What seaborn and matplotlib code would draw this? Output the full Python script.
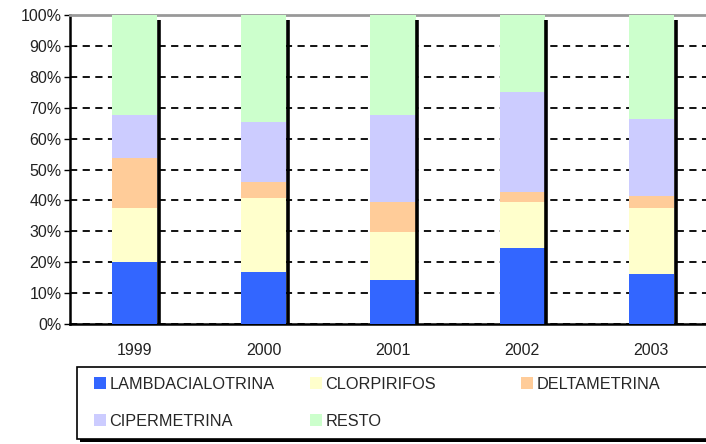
import numpy as np
import matplotlib
matplotlib.use("Agg")
import matplotlib.pyplot as plt
import seaborn as sns

# Data (share of each compound per year, %)
years = ["1999", "2000", "2001", "2002", "2003"]
compounds = ["LAMBDACIALOTRINA", "CLORPIRIFOS", "DELTAMETRINA", "CIPERMETRINA", "RESTO"]
lambdacialotrina = [20.0, 16.7, 14.3, 24.7, 16.2]
clorpirifos = [17.5, 24.0, 15.5, 14.9, 21.4]
deltametrina = [16.3, 5.2, 9.8, 3.2, 3.9]
cipermetrina = [13.7, 19.5, 27.9, 32.4, 24.7]
resto = [32.5, 34.6, 32.5, 24.8, 33.8]
colors = ["#3366FF", "#FFFFCC", "#FFCC99", "#CCCCFF", "#CCFFCC"]

sns.set_style("white")
plt.rcParams["font.family"] = ["Liberation Sans", "DejaVu Sans"]

W, H = 706, 444
fig = plt.figure(figsize=(W / 100, H / 100), dpi=100)
ax = fig.add_axes([70 / W, 1 - 324 / H, 646 / W, 309 / H])

series = [lambdacialotrina, clorpirifos, deltametrina, cipermetrina, resto]
bottom = np.zeros(len(years))
handles = []
for name, vals, col in zip(compounds, series, colors):
    sns.barplot(x=years, y=vals, bottom=bottom, color=col, width=0.35,
                saturation=1, linewidth=0, ax=ax, zorder=3)
    bottom += np.array(vals)
    handles.append(plt.Rectangle((0, 0), 1, 1, fc=col, ec="none"))

# black "shadow" line on the right side of each bar
n = len(years)
for p in ax.patches[-n:]:
    xr = p.get_x() + p.get_width()
    ax.plot([xr + 0.012, xr + 0.012], [0, 98.3], color="black", lw=2.6,
            solid_capstyle="butt", zorder=4)

ax.set_ylim(0, 100)
ax.set_xlim(-0.5, n - 0.5)
ax.set_yticks(np.arange(0, 101, 10))
ax.set_yticklabels([f"{v}%" for v in range(0, 101, 10)])
ax.yaxis.grid(True, color="black", linestyle=(0, (4, 3)), linewidth=1.3, zorder=1)
ax.set_axisbelow(True)

# x ticks between categories, labels centred under bars
ax.set_xticks(np.arange(n))
ax.set_xticklabels(years)
ax.set_xticks(np.arange(n + 1) - 0.5, minor=True)
ax.tick_params(axis="x", which="major", length=0, pad=14)
ax.tick_params(axis="x", which="minor", length=4, width=1, color="black", direction="out")
ax.tick_params(axis="y", length=4, width=1, color="black", direction="out", left=True, pad=2)
ax.tick_params(labelsize=11.5, labelcolor="#222222")

for s in ["left", "bottom"]:
    ax.spines[s].set_color("black")
    ax.spines[s].set_linewidth(1.8)
ax.spines["top"].set_color("#999999")
ax.spines["top"].set_linewidth(2)
ax.spines["right"].set_visible(False)
ax.set_xlabel("")
ax.set_ylabel("")

# legend box with drop shadow
fig.patches.append(plt.Rectangle((80 / W, 1 - 442 / H), 640 / W, 72 / H,
                                 transform=fig.transFigure, fc="black", ec="none", zorder=0))
fig.patches.append(plt.Rectangle((77 / W, 1 - 439 / H), 640 / W, 72 / H,
                                 transform=fig.transFigure, fc="white", ec="black", lw=1.2, zorder=1))

# one legend per column so the columns sit at the reference positions
col_items = [[0, 3], [1, 4], [2]]
col_x = [94, 310, 521]
for items, x in zip(col_items, col_x):
    fig.legend([handles[i] for i in items], [compounds[i] for i in items],
               loc="upper left", bbox_to_anchor=(x / W, 1 - 377 / H),
               frameon=False, handlelength=0.75, handleheight=0.75, handletextpad=0.2,
               labelspacing=1.35, borderpad=0, borderaxespad=0,
               prop={"size": 11.7})

fig.savefig("out.png", dpi=100)
